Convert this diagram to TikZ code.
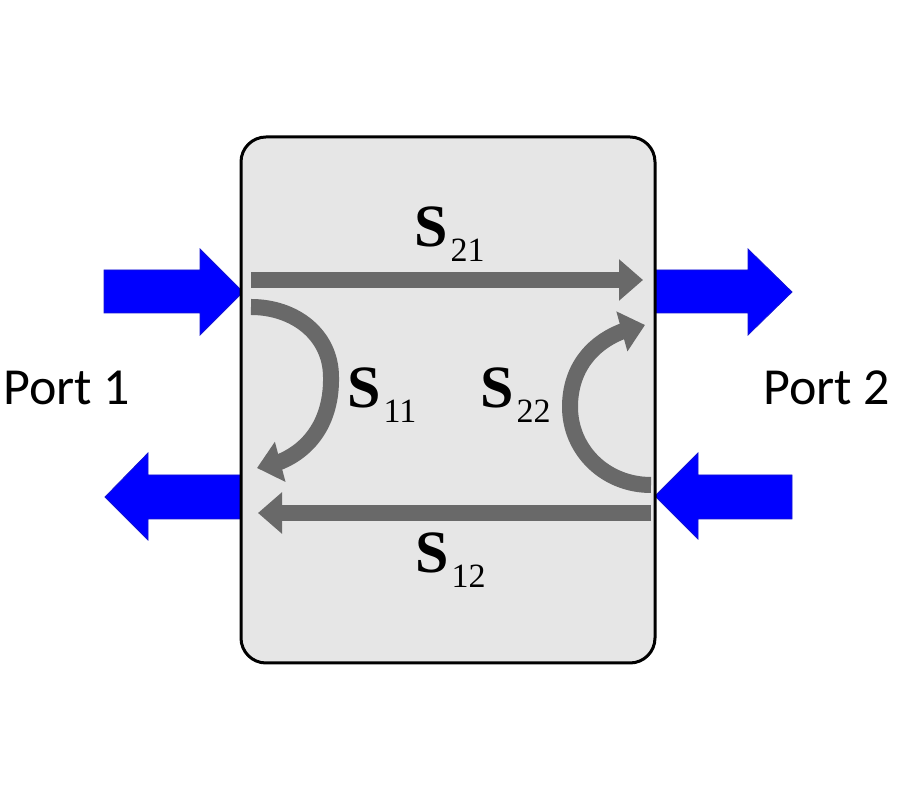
\documentclass[tikz,border=0pt]{standalone}
\usepackage{fontspec}
\setmainfont{Liberation Serif}
\newfontfamily\portfont{Carlito}
\usetikzlibrary{arrows.meta,bending}
\definecolor{sgray}{RGB}{105,105,105}
\definecolor{boxgray}{RGB}{230,230,230}
\definecolor{pblue}{RGB}{0,0,255}
\definecolor{pblueedge}{RGB}{20,20,210}
\newcommand{\sublbl}[1]{\kern3pt{\fontsize{34}{34}\selectfont\mdseries\raisebox{-15pt}{#1}}}
\begin{document}
\begin{tikzpicture}[x=1pt,y=1pt,
  sarrow/.style={line width=16pt, draw=sgray, -{Triangle[width=40pt,length=24pt]}},
  barrow/.style={fill=pblue, draw=pblueedge, line width=0.8pt, line join=miter},
  slabel/.style={anchor=base west, inner sep=0pt, font=\fontsize{60}{62}\selectfont\bfseries},
  plabel/.style={anchor=base west, inner sep=0pt, font=\portfont\fontsize{52}{58}\selectfont},
  sbox/.style={draw=black, fill=boxgray, line width=3pt, rounded corners=25pt, minimum width=414pt, minimum height=526pt, inner sep=0pt}]
\useasboundingbox (0,0) rectangle (900,800);

% blue port arrows
\draw[barrow] (104,487) -- (200,487) -- (200,465) -- (243,508) -- (200,551) -- (200,530) -- (104,530) -- cycle;
\draw[barrow] (241,281) -- (148,281) -- (148,260) -- (105,303) -- (148,347) -- (148,325) -- (241,325) -- cycle;
\draw[barrow] (655,487) -- (748,487) -- (748,465) -- (792,508) -- (748,551) -- (748,530) -- (655,530) -- cycle;
\draw[barrow] (792,281) -- (698,281) -- (698,261) -- (655,304) -- (698,347) -- (698,325) -- (792,325) -- cycle;

% two-port box
\node[sbox] (box) at (448,400) {};

% end points of the scattering arrows
\coordinate (s21a) at (251,520);
\coordinate (s21b) at (643,520);
\coordinate (s12a) at (651,287);
\coordinate (s12b) at (258,287);
\coordinate (s11a) at (251,493);
\coordinate (s11m) at (331,423);
\coordinate (s11b) at (257,332);
\coordinate (s22a) at (651,315);
\coordinate (s22m) at (570,393);
\coordinate (s22b) at (645,475);

\draw[sarrow] (s21a) -- (s21b);
\draw[sarrow] (s12a) -- (s12b);
\draw[sarrow] (s11a) .. controls (295,493) and (331,465) .. (s11m) .. controls (332,370) and (300,338) .. (s11b);
\draw[sarrow] (s22a) .. controls (605,315) and (570,350) .. (s22m) .. controls (570,438) and (600,467) .. (s22b);

% labels
\node[slabel] (l21) at (414,553) {S\sublbl{21}};
\node[slabel] (l11) at (347,392) {S\sublbl{11}};
\node[slabel] (l22) at (480,392) {S\sublbl{22}};
\node[slabel] (l12) at (415,227) {S\sublbl{12}};
\node[plabel] (p1) at (3,395) {Port 1};
\node[plabel] (p2) at (763,395) {Port 2};
\end{tikzpicture}
\end{document}
